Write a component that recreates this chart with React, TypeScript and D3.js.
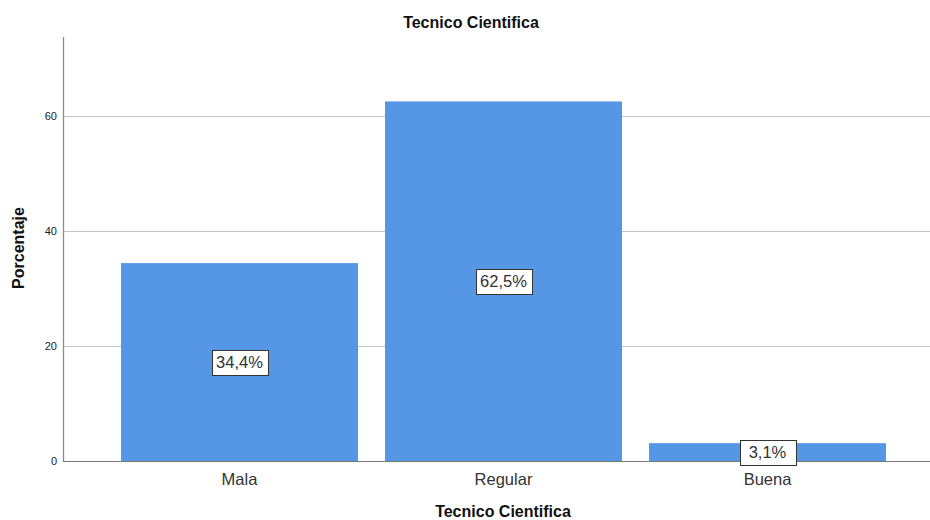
import React from "react";
import * as d3 from "d3";

const categories: string[] = ["Mala", "Regular", "Buena"];
const percentages: number[] = [34.4, 62.5, 3.1];
const yTicks: number[] = [0, 20, 40, 60];
const chartTitle = "Tecnico Cientifica";
const xTitle = "Tecnico Cientifica";
const yTitle = "Porcentaje";

const W = 930;
const H = 520;
const FONT = "'Liberation Sans', Arial, sans-serif";

export default function App() {
  const left = 63;
  const right = 930;
  const top = 37;
  const bottom = 461;

  const y = d3.scaleLinear().domain([0, 73.7]).range([bottom, top]);
  const x = d3
    .scaleBand<string>()
    .domain(categories)
    .range([107.5, 899.5])
    .paddingInner(27 / 264)
    .paddingOuter(13.5 / 264);

  const fmt = (v: number) => v.toFixed(1).replace(".", ",") + "%";

  return (
    <div style={{ position: "absolute", left: 0, top: 0 }}>
      <svg width={W} height={H} style={{ display: "block", background: "#fff" }}>
        {/* horizontal grid lines */}
        {yTicks
          .filter((t) => t > 0)
          .map((t) => (
            <line
              key={"g" + t}
              x1={left}
              x2={right}
              y1={Math.round(y(t)) + 0.5}
              y2={Math.round(y(t)) + 0.5}
              stroke="#c4c4c4"
              strokeWidth={1}
            />
          ))}
        {/* y tick labels */}
        {yTicks.map((t) => (
          <text
            key={"t" + t}
            x={57}
            y={y(t)}
            dy="0.35em"
            textAnchor="end"
            fontFamily={FONT}
            fontSize={11}
            fill="#222"
          >
            {t}
          </text>
        ))}
        {/* bars */}
        {categories.map((c, i) => (
          <rect
            key={"b" + c}
            x={x(c)!}
            y={y(percentages[i])}
            width={x.bandwidth()}
            height={bottom - y(percentages[i])}
            fill="#5596e5"
          />
        ))}
        {/* axes */}
        <line x1={left + 0.5} x2={left + 0.5} y1={top} y2={bottom + 1} stroke="#8c8c8c" strokeWidth={1.3} />
        <line x1={left} x2={right} y1={bottom + 0.5} y2={bottom + 0.5} stroke="#777" strokeWidth={1.2} />
        {/* value labels */}
        {categories.map((c, i) => {
          const cx = x(c)! + x.bandwidth() / 2;
          const cy = (y(percentages[i]) + bottom) / 2;
          const label = fmt(percentages[i]);
          const bw = 56;
          const bh = 25;
          return (
            <g key={"l" + c}>
              <rect
                x={Math.round(cx - bw / 2) + 0.5}
                y={Math.round(cy - bh / 2) + 0.5}
                width={bw}
                height={bh}
                fill="#fff"
                stroke="#333"
                strokeWidth={1}
              />
              <text
                x={cx}
                y={cy}
                dy="0.36em"
                textAnchor="middle"
                fontFamily={FONT}
                fontSize={16.5}
                fill="#333"
              >
                {label}
              </text>
            </g>
          );
        })}
        {/* category labels */}
        {categories.map((c) => (
          <text
            key={"c" + c}
            x={x(c)! + x.bandwidth() / 2}
            y={485}
            textAnchor="middle"
            fontFamily={FONT}
            fontSize={16.5}
            fill="#333"
          >
            {c}
          </text>
        ))}
        {/* titles */}
        <text x={471} y={28} textAnchor="middle" fontFamily={FONT} fontSize={16} fontWeight="bold" fill="#111">
          {chartTitle}
        </text>
        <text x={503} y={517} textAnchor="middle" fontFamily={FONT} fontSize={16} fontWeight="bold" fill="#111">
          {xTitle}
        </text>
        <text
          transform={`translate(24,248) rotate(-90)`}
          textAnchor="middle"
          fontFamily={FONT}
          fontSize={16}
          fontWeight="bold"
          fill="#111"
        >
          {yTitle}
        </text>
      </svg>
    </div>
  );
}
